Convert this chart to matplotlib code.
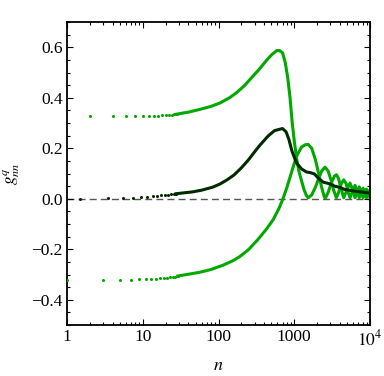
import matplotlib
matplotlib.use("Agg")
import matplotlib.pyplot as plt
from matplotlib.ticker import FixedLocator, FixedFormatter, LogLocator, NullFormatter, MultipleLocator

plt.rcParams['font.family'] = 'serif'
plt.rcParams['font.serif'] = ['Liberation Serif', 'DejaVu Serif']
plt.rcParams['mathtext.fontset'] = 'stix'

# sparse low-n points
upper_n_dots = [2, 4, 6, 8, 10, 12, 14, 16, 18, 20, 22, 24, 26, 28]
upper_v_dots = [0.326, 0.326, 0.326, 0.327, 0.327, 0.328, 0.328, 0.329, 0.330,
                0.331, 0.332, 0.333, 0.334, 0.335]
lower_n_dots = [1, 3, 5, 7, 9, 11, 13, 15, 17, 19, 21, 23, 25, 27, 29]
lower_v_dots = [-0.321, -0.321, -0.320, -0.320, -0.319, -0.318, -0.317, -0.316,
                -0.315, -0.314, -0.312, -0.311, -0.309, -0.308, -0.306]
mid_n_dots = [1.5, 3.5, 5.5, 7.5, 9.5, 11.5, 13.5, 15.5, 17.5, 19.5, 21.5, 23.5,
              25.5, 27.5]
mid_v_dots = [0.000, 0.001, 0.003, 0.004, 0.006, 0.008, 0.009, 0.011, 0.013,
              0.015, 0.016, 0.017, 0.019, 0.020]

# dense part, drawn as a line
upper_n = [28, 40, 57, 80, 104, 140, 173, 220, 290, 350, 430, 510, 590, 640, 700,
           760, 820, 880, 940, 1000, 1072, 1150, 1250, 1350, 1450, 1530,
           1700, 1900, 2100, 2300, 2550, 2800, 3050, 3300, 3600,
           3850, 4150, 4500, 4850, 5150, 5450, 5900, 6350, 6800, 7200,
           7650, 8100, 8550, 9000, 9500, 10000]
upper_v = [0.335, 0.343, 0.354, 0.366, 0.379, 0.400, 0.420, 0.448, 0.488, 0.515,
           0.548, 0.572, 0.587, 0.587, 0.578,
           0.540, 0.480, 0.400, 0.300, 0.230, 0.160, 0.110, 0.070, 0.035, 0.012,
           0.004,
           0.015, 0.045, 0.080, 0.110, 0.125, 0.110, 0.075, 0.035, 0.004,
           0.025, 0.058, 0.075, 0.060, 0.025, 0.004, 0.030, 0.053, 0.030, 0.004,
           0.025, 0.042, 0.025, 0.004, 0.020, 0.035]

lower_n = [29, 42, 57, 80, 115, 156, 191, 250, 330, 430, 527, 620, 700, 800, 900,
           1000, 1100, 1250, 1400, 1530, 1700, 1900, 2100, 2300, 2500, 2600,
           2800, 3100, 3400, 3600, 3850, 4150, 4500, 4950, 5450, 5900, 6350,
           6800, 7200, 7650, 8100, 8550, 9000, 9500, 10000]
lower_v = [-0.306, -0.298, -0.291, -0.280, -0.263, -0.245, -0.229, -0.201, -0.162,
           -0.120, -0.083, -0.042, -0.005, 0.045, 0.095,
           0.140, 0.175, 0.205, 0.214, 0.215, 0.200, 0.155, 0.100, 0.045, 0.006,
           0.004, 0.025, 0.065, 0.090, 0.095, 0.080, 0.040, 0.004, 0.035, 0.062,
           0.035, 0.004, 0.028, 0.047, 0.028, 0.004, 0.022, 0.038, 0.022, 0.004]

mid_n = [27.5, 45, 60, 84, 104, 130, 160, 200, 250, 300, 352, 450, 550, 700, 780,
         850, 930, 1000, 1080, 1250, 1450, 1650, 1850, 2100, 2400, 2700, 3000,
         3400, 4000, 4600, 6000, 8000, 10000]
mid_v = [0.020, 0.027, 0.034, 0.046, 0.058, 0.075, 0.094, 0.122, 0.155, 0.186,
         0.212, 0.248, 0.270, 0.278, 0.265,
         0.235, 0.190, 0.165, 0.140, 0.118, 0.106, 0.103, 0.098, 0.080, 0.066,
         0.062, 0.058, 0.050, 0.045, 0.037, 0.031, 0.026, 0.022]

green = '#00a800'
dark = '#002a00'

fig = plt.figure(figsize=(3.84, 3.76), dpi=100)
ax = fig.add_axes([67 / 384, 1 - 325 / 376, 303 / 384, 303 / 376])

ax.axhline(0, color='#555555', lw=1.0, dashes=(5, 3), zorder=1)

for ns, vs, c in [(upper_n_dots, upper_v_dots, green),
                  (lower_n_dots, lower_v_dots, green),
                  (mid_n_dots, mid_v_dots, dark)]:
    ax.plot(ns, vs, 'o', color=c, ms=2.2, mew=0, zorder=3)

ax.plot(upper_n, upper_v, color=green, lw=2.2, zorder=2, solid_joinstyle='round')
ax.plot(lower_n, lower_v, color=green, lw=2.2, zorder=2, solid_joinstyle='round')
ax.plot(mid_n, mid_v, color=dark, lw=2.2, zorder=4, solid_joinstyle='round')

ax.set_xscale('log')
ax.set_xlim(1, 1e4)
ax.set_ylim(-0.5, 0.7)

xticks = [1, 10, 100, 1000, 10000]
xlabels = ['1', '10', '100', '1000', '$10^4$']
ax.xaxis.set_major_locator(FixedLocator(xticks))
ax.xaxis.set_major_formatter(FixedFormatter(xlabels))
ax.xaxis.set_minor_locator(LogLocator(base=10, subs=range(2, 10)))
ax.xaxis.set_minor_formatter(NullFormatter())

yticks = [-0.4, -0.2, 0.0, 0.2, 0.4, 0.6]
ylabels = ['\u22120.4', '\u22120.2', '0.0', '0.2', '0.4', '0.6']
ax.yaxis.set_major_locator(FixedLocator(yticks))
ax.yaxis.set_major_formatter(FixedFormatter(ylabels))
ax.yaxis.set_minor_locator(MultipleLocator(0.05))

ax.tick_params(which='both', direction='in', top=True, right=True, labelsize=12.5,
               width=0.8)
ax.tick_params(which='major', length=4.5)
ax.tick_params(which='minor', length=2.5)
ax.tick_params(axis='x', pad=3)
ax.tick_params(axis='y', pad=3)
for s in ax.spines.values():
    s.set_linewidth(1.3)

ax.set_xlabel('$n$', fontsize=13)
ax.xaxis.set_label_coords(0.5, -0.106)
ax.set_ylabel('$g^q_{nn}$', fontsize=12.5)
ax.yaxis.set_label_coords(-0.15, 0.5)

fig.savefig('out.png', dpi=100)
